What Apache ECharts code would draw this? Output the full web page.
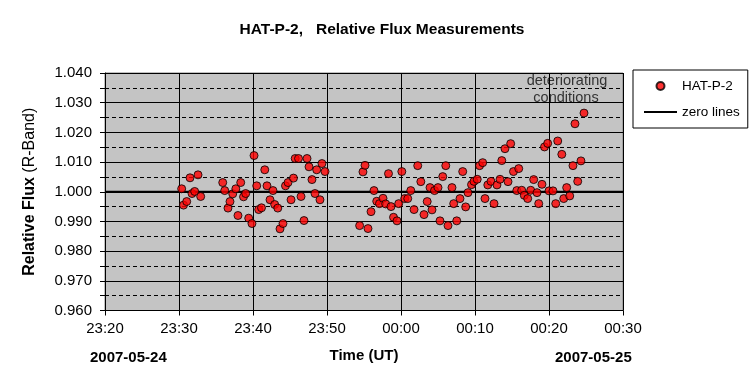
<!DOCTYPE html>
<html>
<head>
<meta charset="utf-8">
<script src="https://cdn.jsdelivr.net/npm/echarts@6/dist/echarts.min.js"></script>
<style>html,body{margin:0;padding:0;background:#fff;}#c{width:753px;height:389px;}</style>
</head>
<body>
<div id="c"></div>
<script>
// minutes after 23:20 UT (2007-05-24)
const timeMin = [10.36,10.61,11.04,11.49,11.76,12.12,12.57,12.93,15.91,16.18,16.62,16.89,17.26,17.68,17.97,18.34,18.72,19.01,19.42,19.86,20.14,20.50,20.77,21.15,21.59,21.89,22.30,22.70,22.93,23.35,23.65,24.05,24.39,24.73,25.14,25.47,25.70,26.15,26.49,26.89,27.30,27.57,27.97,28.38,28.61,29.05,29.32,29.73,
34.41,34.86,35.14,35.54,35.95,36.35,36.72,37.09,37.57,37.93,38.31,38.65,38.99,39.46,39.69,40.11,40.50,40.91,41.32,41.76,42.26,42.68,43.11,43.54,43.92,44.19,44.53,45.00,45.27,45.64,46.05,46.35,46.89,47.12,47.53,47.97,48.34,48.74,49.05,49.53,49.86,50.30,50.62,51.04,51.35,51.73,52.16,52.57,52.97,53.38,53.62,54.05,54.46,54.82,55.20,55.65,55.91,56.31,56.66,57.12,57.53,57.93,58.38,58.61,59.05,59.39,59.82,60.00,60.54,60.91,61.18,61.73,61.99,62.39,62.80,63.24,63.51,63.88,64.32,64.73];
const flux = [1.0010,0.9955,0.9967,1.0047,0.9994,1.0001,1.0057,0.9984,1.0031,1.0004,0.9945,0.9967,0.9993,1.0010,0.9920,1.0031,0.9983,0.9994,0.9911,0.9893,1.0122,1.0020,0.9940,0.9946,1.0074,1.0020,0.9973,1.0004,0.9957,0.9945,0.9875,0.9893,1.0020,1.0031,0.9973,1.0046,1.0112,1.0112,0.9984,0.9903,1.0112,1.0084,1.0041,0.9994,1.0074,0.9973,1.0095,1.0068,
0.9886,1.0067,1.0089,0.9876,0.9933,1.0004,0.9968,0.9960,0.9978,0.9959,1.0061,0.9950,0.9914,0.9902,0.9960,1.0068,0.9977,0.9977,1.0004,0.9940,1.0088,1.0034,0.9923,0.9967,1.0014,0.9939,1.0004,1.0014,0.9902,1.0051,1.0088,0.9886,1.0014,0.9960,0.9902,0.9977,1.0068,0.9949,0.9997,1.0024,1.0035,1.0042,1.0088,1.0098,0.9977,1.0023,1.0035,0.9960,1.0023,1.0042,1.0105,1.0145,1.0034,1.0162,1.0068,1.0004,1.0078,1.0005,0.9988,0.9977,1.0005,1.0041,0.9997,0.9960,1.0025,1.0151,1.0163,1.0003,1.0003,0.9960,1.0171,1.0126,0.9977,1.0014,0.9986,1.0088,1.0229,1.0035,1.0104,1.0265];
const xTickLabels = ["23:20","23:30","23:40","23:50","00:00","00:10","00:20","00:30"];
const zeroLine = [[0,1.0],[70,1.0]];
const dateLabels = ["2007-05-24","2007-05-25"];

const FONT = '"Liberation Sans", Arial, sans-serif';
const pts = timeMin.map((t,i)=>[t,flux[i]]);

const chart = echarts.init(document.getElementById('c'));
chart.setOption({
  animation:false,
  backgroundColor:'#fff',
  textStyle:{fontFamily:FONT},
  title:{
    text:'HAT-P-2,   Relative Flux Measurements',
    left:377, textAlign:'center', top:17,
    textStyle:{fontFamily:FONT,fontSize:15.5,fontWeight:'bold',color:'#000'}
  },
  legend:{
    orient:'vertical', left:633, top:70,
    padding:[9,8,9,10], itemGap:12,
    itemWidth:33, itemHeight:8,
    backgroundColor:'#fff', borderColor:'#000', borderWidth:1,
    textStyle:{fontFamily:FONT,fontSize:13.5,color:'#000'},
    data:[
      {name:'HAT-P-2',icon:'circle'},
      {name:'zero lines',itemStyle:{opacity:0},lineStyle:{color:'#000',width:2}}
    ]
  },
  grid:{left:105,right:130,top:73,bottom:78.5,show:true,backgroundColor:'#c4c4c4',borderColor:'#808080',borderWidth:1},
  xAxis:{
    type:'value', min:0, max:70, interval:10,
    name:'Time (UT)', nameLocation:'middle', nameGap:38,
    nameTextStyle:{fontFamily:FONT,fontSize:15,fontWeight:'bold',color:'#000'},
    axisLine:{show:true,onZero:false,lineStyle:{color:'#000',width:1}},
    axisTick:{show:true,length:5,lineStyle:{color:'#000'}},
    axisLabel:{margin:11,fontFamily:FONT,fontSize:15,color:'#000',formatter:(v)=>xTickLabels[Math.round(v/10)]},
    splitLine:{show:true,lineStyle:{color:'#000',width:1}}
  },
  yAxis:{
    type:'value', min:0.96, max:1.04, interval:0.01,
    name:'{b|Relative Flux}{n| (R-Band)}', nameLocation:'middle', nameGap:67, nameRotate:90,
    nameTextStyle:{rich:{b:{fontFamily:FONT,fontSize:16,fontWeight:'bold',color:'#000'},n:{fontFamily:FONT,fontSize:16,color:'#000'}}},
    axisLine:{show:true,lineStyle:{color:'#000',width:1}},
    axisTick:{show:true,length:5,lineStyle:{color:'#000'}},
    minorTick:{show:true,splitNumber:2,length:5,lineStyle:{color:'#000'}},
    axisLabel:{margin:13,fontFamily:FONT,fontSize:15,color:'#000',formatter:(v)=>v.toFixed(3)},
    splitLine:{show:true,lineStyle:{color:'#000',width:1}},
    minorSplitLine:{show:true,lineStyle:{color:'#000',width:1,type:[4,3]}}
  },
  graphic:[
    {type:'text',left:90,top:350,style:{text:dateLabels[0],font:'bold 15px '+FONT,fill:'#000'}},
    {type:'text',left:555,top:350,style:{text:dateLabels[1],font:'bold 15px '+FONT,fill:'#000'}},
    {type:'text',x:567,y:81,style:{text:'deteriorating',font:'14.5px '+FONT,fill:'#333',align:'center',verticalAlign:'middle'}},
    {type:'text',x:566,y:98,style:{text:'conditions',font:'14.5px '+FONT,fill:'#333',align:'center',verticalAlign:'middle'}}
  ],
  series:[
    {name:'zero lines',type:'line',data:zeroLine,symbol:'none',lineStyle:{color:'#000',width:2},itemStyle:{color:'#000'},z:3},
    {name:'HAT-P-2',type:'scatter',data:pts,symbol:'circle',symbolSize:8,
     itemStyle:{color:'#ff0000',borderColor:'#000',borderWidth:1},z:5}
  ]
});
</script>
</body>
</html>
